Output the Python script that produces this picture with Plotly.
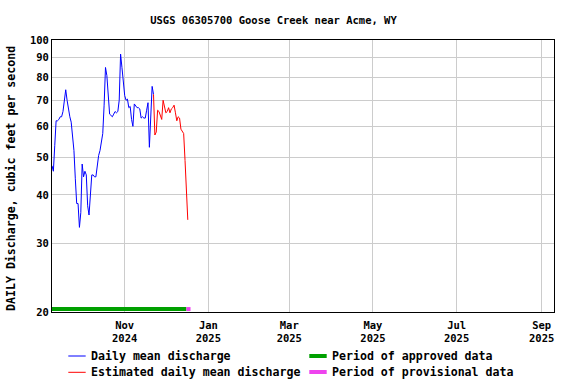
import datetime as dt
import plotly.graph_objects as go

start = dt.date(2024, 9, 9)
flow = [47.5, 46, 53.5, 62, 62, 62.5, 63.5, 63.5, 65.5, 71.5,
        74.5, 70, 66, 63.5, 61.5, 57.5, 52, 44, 38, 38,
        33, 36, 48, 44.5, 46, 45, 37.5, 35.5, 40, 45,
        45, 44.5, 44.5, 47.5, 50.5, 52, 54.5, 57.5, 68, 85,
        81, 69.5, 64.5, 64, 63.5, 64.5, 65.5, 65, 65.5, 70,
        92, 85, 76, 72, 70, 70.5, 67, 67.5, 62.5, 60,
        68.5, 67.5, 67, 67, 66.5, 63, 63.5, 63, 63, 66,
        69, 53, 64, 76, 72.5, 57, 58, 66, 65.5, 63.5,
        62.5, 70, 68, 65, 65.5, 67, 65, 66.5, 67, 68,
        65, 62, 63.5, 63, 59, 58, 57.5, 49, 38.9, 34.5]
est_start = 74  # index where estimated values begin (connects to previous)
dates = [start + dt.timedelta(days=i) for i in range(len(flow))]

approved_period = ["2024-09-08", "2024-12-16"]
provisional_period = ["2024-12-16", "2024-12-19"]
bar_level = 20.35

x_ticks = ["2024-11-01", "2025-01-01", "2025-03-01", "2025-05-01", "2025-07-01", "2025-09-01"]
x_ticktext = ["Nov<br>2024", "Jan<br>2025", "Mar<br>2025", "May<br>2025", "Jul<br>2025", "Sep<br>2025"]
y_ticks = [20, 30, 40, 50, 60, 70, 80, 90, 100]

FONT = "DejaVu Sans Mono"
BLUE = "#0000ff"
RED = "#ff0000"
GREEN = "#00a000"
PINK = "#ee44ee"

fig = go.Figure()
fig.add_trace(go.Scatter(x=dates[:est_start + 1], y=flow[:est_start + 1], mode="lines",
                         line=dict(color=BLUE, width=1), showlegend=False, hoverinfo="skip"))
fig.add_trace(go.Scatter(x=dates[est_start:], y=flow[est_start:], mode="lines",
                         line=dict(color=RED, width=1), showlegend=False, hoverinfo="skip"))
fig.add_trace(go.Scatter(x=approved_period, y=[bar_level, bar_level], mode="lines",
                         line=dict(color=GREEN, width=4), showlegend=False, cliponaxis=False))
fig.add_trace(go.Scatter(x=provisional_period, y=[bar_level, bar_level], mode="lines",
                         line=dict(color=PINK, width=4), showlegend=False, cliponaxis=False))

L, R, T, B = 52, 22, 40, 72
W, H = 576, 384
pw, ph = W - L - R, H - T - B

def px(x):
    return (x - L) / pw

def py(y):
    return (H - B - y) / ph

shapes = []
annotations = []
legend_items = [
    (68.3, 85.7, 356, BLUE, 1, "Daily mean discharge", 89.0),
    (68.3, 85.7, 372.3, RED, 1, "Estimated daily mean discharge", 89.0),
    (309.3, 326.7, 356, GREEN, 4, "Period of approved data", 330.0),
    (309.3, 326.7, 372, PINK, 4, "Period of provisional data", 330.0),
]
for x0, x1, y, c, w, text, tx in legend_items:
    shapes.append(dict(type="line", xref="paper", yref="paper", x0=px(x0), x1=px(x1),
                       y0=py(y), y1=py(y), line=dict(color=c, width=w)))
    annotations.append(dict(xref="paper", yref="paper", x=px(tx), y=py(y), text=text,
                            showarrow=False, xanchor="left", yanchor="middle",
                            font=dict(family=FONT, size=11.6, color="black", weight="bold")))

annotations.append(dict(xref="paper", yref="paper", x=px(11), y=py(179), text="DAILY Discharge, cubic feet per second",
                        textangle=-90, showarrow=False, xanchor="center", yanchor="middle",
                        font=dict(family=FONT, size=11.6, color="black", weight="bold")))

fig.update_layout(
    width=W, height=H,
    margin=dict(l=L, r=R, t=T, b=B),
    paper_bgcolor="white", plot_bgcolor="white",
    title=dict(text="USGS 06305700 Goose Creek near Acme, WY", x=273.5 / W, xanchor="center",
               y=1 - 20 / H, yanchor="middle",
               font=dict(family=FONT, size=10.5, color="black", weight="bold")),
    shapes=shapes, annotations=annotations,
    showlegend=False,
)
fig.update_xaxes(type="date", range=["2024-09-09", "2025-09-10"], tickvals=x_ticks, ticktext=x_ticktext,
                 showgrid=True, gridcolor="#cccccc", gridwidth=1, showline=True, linecolor="black",
                 linewidth=1, mirror=True, ticks="", zeroline=False, ticklabelstandoff=3,
                 tickfont=dict(family=FONT, size=10.5, color="black", weight="bold"))
fig.update_yaxes(type="log", range=[1.30103, 2.0], tickvals=y_ticks, ticktext=[str(v) for v in y_ticks],
                 showgrid=True, gridcolor="#cccccc", gridwidth=1, showline=True, linecolor="black",
                 linewidth=1, mirror=True, ticks="", zeroline=False,
                 tickfont=dict(family=FONT, size=10.5, color="black", weight="bold"))

fig.write_html("out.html")
